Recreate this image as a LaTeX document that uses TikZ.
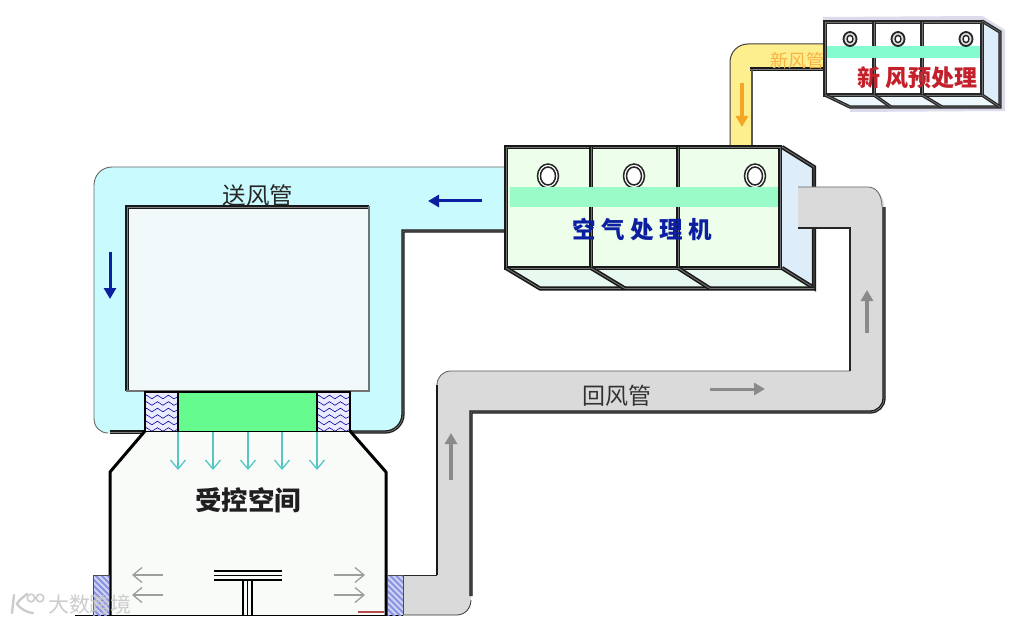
\documentclass[tikz,border=0pt]{standalone}
\usepackage{fontspec}
\setmainfont{Liberation Sans}
\newfontfamily\cjk{Noto Sans CJK SC}
\usetikzlibrary{arrows.meta,decorations.pathmorphing}
\definecolor{supply}{HTML}{C9FBFE}
\definecolor{duckgray}{HTML}{DADADA}
\definecolor{freshy}{HTML}{FDEE8E}
\definecolor{ahuface}{HTML}{EDFEEA}
\definecolor{bandg}{HTML}{9BFBC8}
\definecolor{sideb}{HTML}{DDEEFA}
\definecolor{boxf}{HTML}{F1F9FA}
\definecolor{roomf}{HTML}{F8FBF8}
\definecolor{filterg}{HTML}{66FB8E}
\definecolor{hatchb}{HTML}{C9D6F5}
\definecolor{purp}{HTML}{8F8FE0}
\definecolor{teal2}{HTML}{55C8C4}
\definecolor{navya}{HTML}{0B1FA0}
\definecolor{garrow}{HTML}{8A8A8A}
\definecolor{orangea}{HTML}{F5A623}
\definecolor{redt}{HTML}{C4202C}
\tikzset{
  frame/.style={draw=black!85,line width=1.3pt,double=black!55,double distance=.7pt},
  frameheavy/.style={draw=black!90,line width=1.6pt,double=black!55,double distance=.9pt},
  ductdouble/.style={draw=black!90,line width=1.3pt,double=black!50,double distance=.7pt},
  blockarrow/.style={line width=#1,-{Triangle[length=11pt,width=12pt]}},
  thinarrow/.style={line width=1.3pt,-{Straight Barb[length=9pt,width=15pt]}},
  label/.style={font=\cjk,inner sep=0pt},
}
\begin{document}
\begin{tikzpicture}[x=1pt,y=-1pt]
\useasboundingbox (0,0) rectangle (1018,623);
\fill[white] (0,0) rectangle (1018,623);

% supply duct
\fill[supply] (510,167) -- (112,167) .. controls (102,167) and (94,175) .. (94,185) -- (94,418) .. controls (94,427) and (100,433) .. (108,433)
  -- (385,433) .. controls (395,433) and (403,425) .. (403,415) -- (403,231) -- (510,231) -- cycle;
\draw[black!60,line width=.9pt] (504,167) -- (112,167) .. controls (102,167) and (94,175) .. (94,185) -- (94,418) .. controls (94,427) and (100,433) .. (108,433);
\draw[ductdouble] (110,432) -- (145,432);
\draw[ductdouble] (350,432) -- (385,432) .. controls (395,432) and (403,424) .. (403,414) -- (403,231) -- (504,231);

% inner block above the filter
\fill[boxf] (126,206) rectangle (369,391);
\draw[ductdouble] (127,391) -- (127,207) -- (369,207);
\draw[black!55,line width=1.2pt] (369,206) -- (369,391) -- (126,391);

% fresh air duct
\fill[freshy] (730,146) -- (730,62) .. controls (730,52) and (738,44) .. (748,44) -- (826,44) -- (826,69) -- (752,69) -- (752,146) -- cycle;
\draw[black!75,line width=1pt] (730,146) -- (730,62) .. controls (730,52) and (738,44) .. (748,44) -- (826,44);
\draw[ductdouble] (826,69) -- (750,69);
\draw[black!65,line width=1.6pt] (752,69) -- (752,146);

% pre-treatment unit
\draw[blue!30!gray!22,line width=4pt] (823,19) -- (982,18) -- (1003,31) -- (1003,109) -- (850,110);
\fill[sideb] (982,20) -- (1002,32) -- (1002,108) -- (982,96) -- cycle;
\fill[sideb!50] (823,96) -- (982,96) -- (1002,108) -- (850,108) -- cycle;
\fill[white] (824,21) rectangle (982,95);
\fill[bandg!85!cyan] (827,46) rectangle (980,58);
\draw[frame] (825,22) rectangle (982,95);
\draw[frame] (874,22) -- (874,46) (874,58) -- (874,95);
\draw[frame] (922,22) -- (922,46) (922,58) -- (922,95);
\draw[frame] (982,21) -- (1000,32) -- (1000,107) -- (850,107) -- (825,95);
\draw[frame] (874,95) -- (891,107) (922,95) -- (942,107) (982,95) -- (1000,107);
\foreach \px/\nm in {850/a,898/b,966/c}{
  \draw[black!85,line width=1.8pt,fill=black!12] (\px,39) circle[x radius=6.5,y radius=7];
  \draw[black!85,line width=1.4pt,fill=white] (\px,39) circle[x radius=3,y radius=3.6];
}

% air handling unit
\fill[sideb] (782,145) -- (816,167) -- (816,288) -- (782,270) -- cycle;
\fill[ahuface!70!sideb] (504,270) -- (782,270) -- (816,290) -- (540,290) -- cycle;
\fill[ahuface] (504,145) rectangle (782,270);
\fill[bandg] (510,187) rectangle (778,207);
\draw[frameheavy] (506,147) rectangle (780,268);
\draw[frameheavy] (591,147) -- (591,187) (591,207) -- (591,268);
\draw[frameheavy] (678,147) -- (678,187) (678,207) -- (678,268);
\draw[frameheavy] (782,147) -- (814,167) -- (814,288) -- (782,268);
\draw[frameheavy] (506,268) -- (540,288.5) -- (814,288.5);
\draw[frameheavy] (591,268) -- (625,288.5) (678,268) -- (710,288.5);
\foreach \px/\nm in {548/a,634/b,755/c}{
  \begin{scope}
    \clip (\px-14,160) rectangle (\px+14,186.5);
    \draw[black!85,line width=1.5pt,fill=white] (\px,176) circle[x radius=10.5,y radius=12];
    \draw[black!85,line width=1.5pt,fill=white] (\px,176) circle[x radius=7.5,y radius=9];
  \end{scope}
}

% return duct
\fill[duckgray] (403,575) -- (437,575) -- (437,385) .. controls (437,377) and (443,371) .. (451,371) -- (850,371) -- (850,228)
  -- (798,228) -- (798,187) -- (868,187) .. controls (877,187) and (884,196) .. (884,207) -- (884,398) .. controls (884,406) and (878,412) .. (870,412)
  -- (471,412) -- (471,600) .. controls (471,608) and (465,615) .. (457,615) -- (403,615) -- cycle;
\draw[black!85,line width=1pt] (403,575) -- (437,575);
\draw[black!90,line width=1.5pt] (437,575) -- (437,385);
\draw[black!65,line width=.8pt] (437,385) .. controls (437,377) and (443,371) .. (451,371) -- (850,371);
\draw[black!85,line width=1.3pt] (850,371) -- (850,228) -- (798,228);
\draw[black!60,line width=.8pt] (798,187) -- (868,187) .. controls (877,187) and (882,196) .. (882,207);
\draw[ductdouble] (884,207) -- (884,398) .. controls (884,406) and (878,412) .. (870,412) -- (471,412) -- (471,596);
\draw[black!80,line width=.8pt] (471,600) .. controls (471,608) and (465,615) .. (457,615) -- (403,615);

% controlled room
\fill[roomf] (145,431) -- (110,472) -- (110,615) -- (386,615) -- (386,472) -- (350,431) -- cycle;
\draw[black,line width=1.5pt] (75,615.5) -- (403,615.5);
\draw[black,line width=3pt,line join=round] (145,431) -- (110,472) -- (110,615);
\draw[black,line width=3pt,line join=round] (350,431) -- (386,472) -- (386,615);
\draw[red!60!black!70!white,line width=1.2pt] (358,612) -- (384,612);

% purple vents
\foreach \xa/\nm in {93/l,387.5/r}{
  \begin{scope}
    \clip (\xa,575) rectangle (\xa+16,615);
    \fill[hatchb] (\xa,575) rectangle (\xa+16,615);
    \foreach \k in {-20,-14,...,50}{
      \draw[purp,line width=2pt] (\xa,575+\k) -- (\xa+17,592+\k);
    }
  \end{scope}
  \draw[black!70,line width=.7pt] (\xa,615) -- (\xa,575) -- (\xa+16,575) -- (\xa+16,615);
}

% filter section
\fill[filterg] (178,392) rectangle (317,431);
\foreach \xa/\nm in {145/l,317/r}{
  \fill[blue!8] (\xa,392) rectangle (\xa+33,431);
  \begin{scope}
    \clip (\xa,392) rectangle (\xa+33,431);
    \foreach \yy in {397,403.5,...,431}{
      \draw[blue!60!black,line width=.6pt,decorate,decoration={snake,amplitude=1.8pt,segment length=11pt}] (\xa-2,\yy) -- (\xa+35,\yy);
    }
  \end{scope}
}
\draw[black,line width=1.8pt] (145,431.5) -- (145,392) -- (350,392) -- (350,431.5) -- cycle;
\draw[black,line width=1.4pt] (178,392) -- (178,431) (317,392) -- (317,431);

% supply arrows
\foreach \px in {178,213,248,282,317}{
  \draw[teal2,thinarrow] (\px,432) -- (\px,470);
}

% diffuser
\draw[black,line width=1.6pt] (214,571) -- (282,571) (214,575.5) -- (282,575.5) (214,580) -- (282,580);
\draw[black,line width=1.5pt] (243,580) -- (243,615) (247.5,580) -- (247.5,615) (252,580) -- (252,615);

% room arrows
\draw[black!38,thinarrow] (163,575) -- (132,575);
\draw[black!38,thinarrow] (163,595) -- (132,595);
\draw[black!38,thinarrow] (334,575) -- (365,575);
\draw[black!38,thinarrow] (334,595) -- (365,595);

% flow arrows
\draw[navya,blockarrow=3pt] (482,201) -- (428,201);
\draw[navya,blockarrow=3pt] (110,252) -- (110,299);
\draw[garrow,blockarrow=3pt] (710,389) -- (765,389);
\draw[garrow,blockarrow=4.5pt] (867,333) -- (867,290);
\draw[garrow,blockarrow=4.5pt] (451,480) -- (451,433);
\draw[orangea,blockarrow=4.5pt] (742,83) -- (742,127);

% labels
\node[label,font=\cjk\fontsize{23.5}{24}\selectfont,text=black!85] (tsupply) at (258,196) {送风管};
\node[label,font=\cjk\fontsize{23}{24}\selectfont,text=black!80] (treturn) at (617,396) {回风管};
\node[label,font=\cjk\fontsize{18}{18}\selectfont,text=orangea!85!white] (tfresh) at (797,61) {新风管};
\node[label,font=\cjk\bfseries\fontsize{23.5}{24}\selectfont,text=navya] (tahu) at (642,230) {空 气 处 理 机};
\node[label,font=\cjk\bfseries\fontsize{23}{24}\selectfont,text=redt] (tpre) at (917.5,78) {新 风预处理};
\node[label,font=\cjk\bfseries\fontsize{26.5}{27}\selectfont,text=black!88] (troom) at (248,500) {受控空间};

% watermark
\node[label,font=\cjk\fontsize{21}{21}\selectfont,text=black!22,opacity=.9] (twater) at (90,604) {大数跨境};
\draw[black!20,line width=2.4pt,line cap=round] (14,595) -- (12,613);
\draw[black!20,line width=2.4pt,line cap=round] (27,594) .. controls (22,598) and (18,601) .. (17,604) .. controls (20,608) and (25,612) .. (33,613);
\draw[black!20,line width=1.6pt] (31,598) circle[radius=3.8] (40,598) circle[radius=3.8];
\end{tikzpicture}
\end{document}
